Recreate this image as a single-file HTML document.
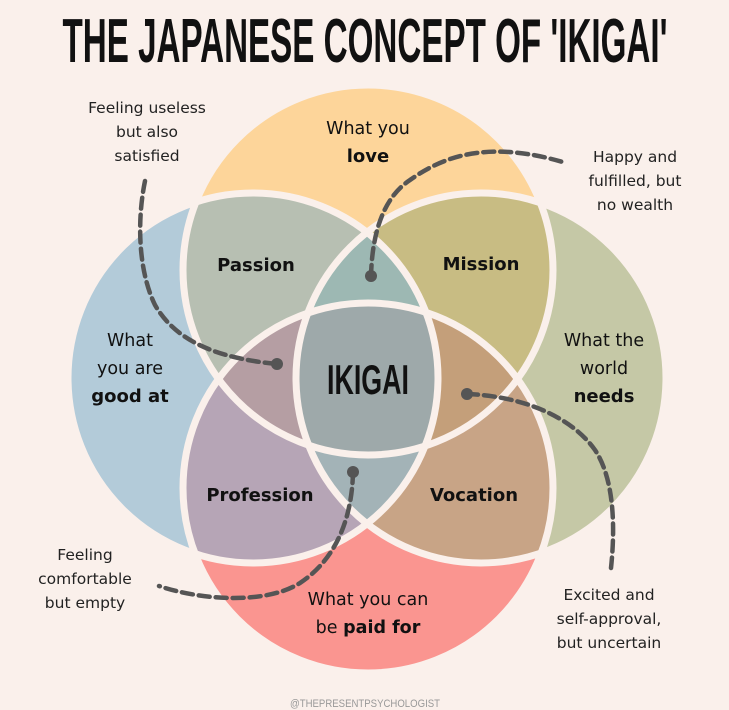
<!DOCTYPE html>
<html><head><meta charset="utf-8"><style>
html,body{margin:0;padding:0;background:#faf0eb;}
svg{display:block}
text{font-family:"DejaVu Sans","Liberation Sans",sans-serif;fill:#111;text-anchor:middle}
.b{font-size:17.5px}
.bb{font-size:18px;font-weight:bold}
.a{font-size:15.5px;fill:#222}
</style></head><body>
<svg width="729" height="710" viewBox="0 0 729 710" xmlns="http://www.w3.org/2000/svg">
<defs>
<clipPath id="cT"><circle cx="368" cy="270" r="185"/></clipPath>
<clipPath id="cL"><circle cx="253" cy="378" r="185"/></clipPath>
<clipPath id="cR"><circle cx="481" cy="378" r="185"/></clipPath>
<clipPath id="cB"><circle cx="368" cy="488" r="185"/></clipPath>
</defs>
<rect width="729" height="710" fill="#faf0eb"/>
<text x="365" y="62" style="font-family:'Liberation Sans',sans-serif;font-size:62px;font-weight:bold" textLength="605" lengthAdjust="spacingAndGlyphs">THE JAPANESE CONCEPT OF 'IKIGAI'</text>
<circle cx="368" cy="270" r="185" fill="#fdd59a"/>
<circle cx="253" cy="378" r="185" fill="#b3cbd9"/>
<circle cx="481" cy="378" r="185" fill="#c5c8a6"/>
<circle cx="368" cy="488" r="185" fill="#fa9590"/>
<g clip-path="url(#cT)"><rect width="729" height="710" fill="#b7bfb2" clip-path="url(#cL)"/></g>
<g clip-path="url(#cT)"><rect width="729" height="710" fill="#c8bc83" clip-path="url(#cR)"/></g>
<g clip-path="url(#cB)"><rect width="729" height="710" fill="#b6a5b6" clip-path="url(#cL)"/></g>
<g clip-path="url(#cB)"><rect width="729" height="710" fill="#c8a486" clip-path="url(#cR)"/></g>
<g clip-path="url(#cT)"><g clip-path="url(#cL)"><rect width="729" height="710" fill="#9db8b3" clip-path="url(#cR)"/></g></g>
<g clip-path="url(#cB)"><g clip-path="url(#cL)"><rect width="729" height="710" fill="#a3b3b7" clip-path="url(#cR)"/></g></g>
<g clip-path="url(#cT)"><g clip-path="url(#cL)"><rect width="729" height="710" fill="#b59ea3" clip-path="url(#cB)"/></g></g>
<g clip-path="url(#cT)"><g clip-path="url(#cR)"><rect width="729" height="710" fill="#c49f7a" clip-path="url(#cB)"/></g></g>
<g clip-path="url(#cT)"><g clip-path="url(#cL)"><g clip-path="url(#cR)"><rect width="729" height="710" fill="#9ea9aa" clip-path="url(#cB)"/></g></g></g>
<g fill="none" stroke="#faf0eb" stroke-width="7">
<circle cx="368" cy="270" r="185"/>
<circle cx="253" cy="378" r="185"/>
<circle cx="481" cy="378" r="185"/>
<circle cx="368" cy="488" r="185"/>
</g>
<g fill="none" stroke="#555" stroke-width="4.5" stroke-dasharray="11 6" stroke-linecap="round">
<path d="M145,181 C137,220 138,270 155,305 C175,340 215,358 277,364"/>
<path d="M371,276 C372,240 380,200 410,180 C445,155 490,140 566,163"/>
<path d="M467,394 C520,396 570,415 595,450 C615,480 615,530 611,568"/>
<path d="M353,472 C352,520 335,560 300,583 C265,605 200,600 159,586"/>
</g>
<g fill="#555">
<circle cx="277" cy="364" r="6"/><circle cx="371" cy="276" r="6"/>
<circle cx="467" cy="394" r="6"/><circle cx="353" cy="472" r="6"/>
</g>
<text x="368" y="394" style="font-family:'Liberation Sans',sans-serif;font-size:42px;font-weight:bold" textLength="82" lengthAdjust="spacingAndGlyphs">IKIGAI</text>
<text class="bb" x="256" y="271">Passion</text>
<text class="bb" x="481" y="270">Mission</text>
<text class="bb" x="260" y="501">Profession</text>
<text class="bb" x="474" y="501">Vocation</text>
<text class="b" x="368" y="134">What you</text>
<text class="bb" x="368" y="162">love</text>
<text class="b" x="130" y="346">What</text>
<text class="b" x="130" y="374">you are</text>
<text class="bb" x="130" y="402">good at</text>
<text class="b" x="604" y="346">What the</text>
<text class="b" x="604" y="374">world</text>
<text class="bb" x="604" y="402">needs</text>
<text class="b" x="368" y="605">What you can</text>
<text class="b" x="368" y="633">be <tspan font-weight="bold">paid for</tspan></text>
<text class="a" x="147" y="113">Feeling useless</text>
<text class="a" x="147" y="137">but also</text>
<text class="a" x="147" y="161">satisfied</text>
<text class="a" x="635" y="162">Happy and</text>
<text class="a" x="635" y="186">fulfilled, but</text>
<text class="a" x="635" y="210">no wealth</text>
<text class="a" x="85" y="560">Feeling</text>
<text class="a" x="85" y="584">comfortable</text>
<text class="a" x="85" y="608">but empty</text>
<text class="a" x="609" y="600">Excited and</text>
<text class="a" x="609" y="624">self-approval,</text>
<text class="a" x="609" y="648">but uncertain</text>
<text x="365" y="707" style="font-family:'Liberation Sans',sans-serif;font-size:11px;fill:#999" textLength="150" lengthAdjust="spacingAndGlyphs">@THEPRESENTPSYCHOLOGIST</text>
</svg>
</body></html>
